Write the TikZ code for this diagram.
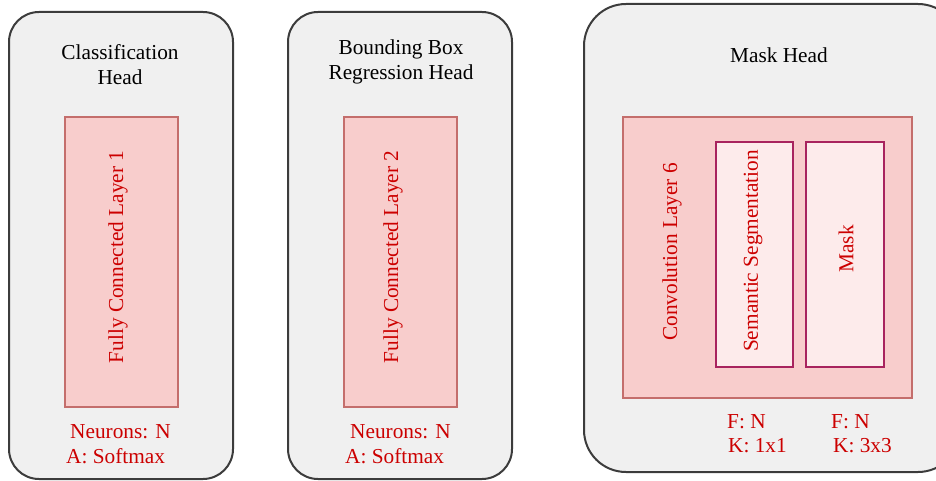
\documentclass[tikz,border=0pt]{standalone}
\usepackage{fontspec}
\setmainfont{Liberation Serif}
\definecolor{outerfill}{HTML}{F0F0F0}
\definecolor{outerdraw}{HTML}{3C3C3C}
\definecolor{layerfill}{HTML}{F8CDCC}
\definecolor{layerdraw}{HTML}{C46E6C}
\definecolor{subfill}{HTML}{FDEBEB}
\definecolor{subdraw}{HTML}{A8235E}
\definecolor{txtred}{HTML}{CC0000}
\begin{document}
\begin{tikzpicture}[x=1pt,y=-1pt,
  headbox/.style={draw=outerdraw,fill=outerfill,line width=2pt},
  layerbox/.style={draw=layerdraw,fill=layerfill,line width=2pt},
  subbox/.style={draw=subdraw,fill=subfill,line width=2.6pt},
  title/.style={font=\fontsize{21.3}{25}\selectfont,text=black,align=center,inner sep=0pt},
  redtxt/.style={font=\fontsize{21.3}{25}\selectfont,text=txtred,inner sep=0pt},
  vtxt/.style={font=\fontsize{21.3}{25}\selectfont,text=txtred,rotate=90,inner sep=0pt}]
\useasboundingbox (0,0) rectangle (936,481);
\begin{scope}
\clip (0,0) rectangle (936,481);
% heads
\draw[headbox,rounded corners=30pt] (9,12) rectangle (233,479);
\draw[headbox,rounded corners=30pt] (288,12) rectangle (512,479);
\draw[headbox,rounded corners=42pt] (584,4) rectangle (960,472);
\end{scope}
% titles
\node[title] (t1) at (120,65) {Classification\\Head};
\node[title] (t2) at (401,62) {Bounding Box\\Regression Head};
\node[title] (t3) at (779,55) {Mask Head};
% layers
\draw[layerbox] (65,117) rectangle (178,407);
\node[vtxt] (fc1) at (118,257) {Fully Connected Layer 1};
\draw[layerbox] (344,117) rectangle (457,407);
\node[vtxt] (fc2) at (393,257) {Fully Connected Layer 2};
\draw[layerbox] (623,117) rectangle (912,398);
\node[vtxt] (conv) at (672,252) {Convolution Layer 6};
\draw[subbox] (716,142) rectangle (793,367);
\node[vtxt] (sem) at (753,251) {Semantic Segmentation};
\draw[subbox] (806,142) rectangle (884,367);
\node[vtxt] (mask) at (846,249) {Mask};
% parameters
\node[redtxt,anchor=west] (n1) at (70,432) {Neurons: N};
\node[redtxt,anchor=west] (a1) at (66,456) {A: Softmax};
\node[redtxt,anchor=west] (n2) at (350,432) {Neurons: N};
\node[redtxt,anchor=west] (a2) at (345,456) {A: Softmax};
\node[redtxt,anchor=west] (f1) at (727,422) {F: N};
\node[redtxt,anchor=west] (k1) at (728,446) {K: 1x1};
\node[redtxt,anchor=west] (f2) at (831,422) {F: N};
\node[redtxt,anchor=west] (k2) at (833,446) {K: 3x3};
\end{tikzpicture}
\end{document}
